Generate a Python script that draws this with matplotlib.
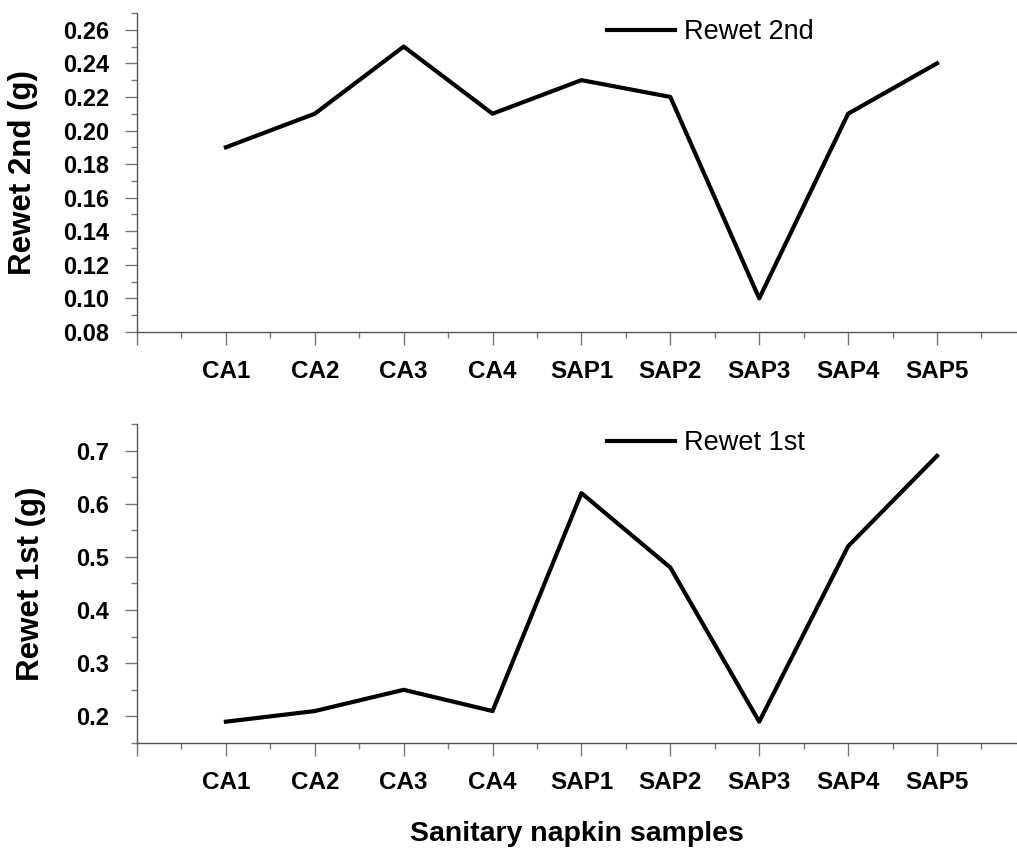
import matplotlib
matplotlib.use("Agg")
import matplotlib.pyplot as plt
from matplotlib.ticker import MultipleLocator

# 样品名称
samples = ["CA1", "CA2", "CA3", "CA4", "SAP1", "SAP2", "SAP3", "SAP4", "SAP5"]
# 第二次回渗量 (g)
rewet_2nd = [0.19, 0.21, 0.25, 0.21, 0.23, 0.22, 0.10, 0.21, 0.24]
# 第一次回渗量 (g)
rewet_1st = [0.19, 0.21, 0.25, 0.21, 0.62, 0.48, 0.19, 0.52, 0.69]

plt.rcParams["font.family"] = ["Liberation Sans", "DejaVu Sans"]

fig = plt.figure(figsize=(10.17, 8.49), dpi=100)
ax1 = fig.add_axes([0.1347, 0.609, 0.8653, 0.3757])
ax2 = fig.add_axes([0.1347, 0.1249, 0.8653, 0.3757])

x = list(range(1, len(samples) + 1))


def style_axes(ax, ylabel, ymin, ymax, ystep, yminor, fmt, label_x):
    for side in ["top", "right"]:
        ax.spines[side].set_visible(False)
    for side in ["left", "bottom"]:
        ax.spines[side].set_color("#555555")
        ax.spines[side].set_linewidth(1.0)
    ax.set_xlim(0, 9.9)
    ax.set_ylim(ymin, ymax)
    ax.set_xticks([0] + x)
    ax.set_xticklabels([""] + samples, fontsize=17.5, fontweight="bold")
    ax.xaxis.set_minor_locator(MultipleLocator(0.5))
    ax.yaxis.set_major_locator(MultipleLocator(ystep))
    ax.yaxis.set_minor_locator(MultipleLocator(yminor))
    ax.yaxis.set_major_formatter(plt.FormatStrFormatter(fmt))
    for lab in ax.get_yticklabels():
        lab.set_fontsize(17)
        lab.set_fontweight("bold")
    ax.tick_params(which="major", direction="out", length=9, width=1.0,
                   color="#777777", pad=11)
    ax.tick_params(which="minor", direction="out", length=4.5, width=1.0,
                   color="#777777")
    ax.set_ylabel(ylabel, fontsize=22.5, fontweight="bold")
    ax.yaxis.set_label_coords(label_x, 0.5)


ax1.plot(x, rewet_2nd, color="black", linewidth=3, label="Rewet 2nd")
style_axes(ax1, "Rewet 2nd (g)", 0.08, 0.27, 0.02, 0.01, "%.2f", -0.113)
ax1.set_yticks([0.08 + 0.02 * i for i in range(10)])
ax1.legend(loc="center left", bbox_to_anchor=(0.534, 0.94), frameon=False,
           fontsize=19.5, handlelength=2.5, handletextpad=0.35,
           borderpad=0, borderaxespad=0)

ax2.plot(x, rewet_1st, color="black", linewidth=3, label="Rewet 1st")
style_axes(ax2, "Rewet 1st (g)", 0.15, 0.75, 0.1, 0.05, "%.1f", -0.103)
ax2.set_yticks([0.2 + 0.1 * i for i in range(6)])
ax2.legend(loc="center left", bbox_to_anchor=(0.534, 0.94), frameon=False,
           fontsize=19.5, handlelength=2.5, handletextpad=0.35,
           borderpad=0, borderaxespad=0)

fig.text(0.5673, 0.018, "Sanitary napkin samples", ha="center", va="center",
         fontsize=20.5, fontweight="bold")

fig.savefig("out.png", dpi=100)
